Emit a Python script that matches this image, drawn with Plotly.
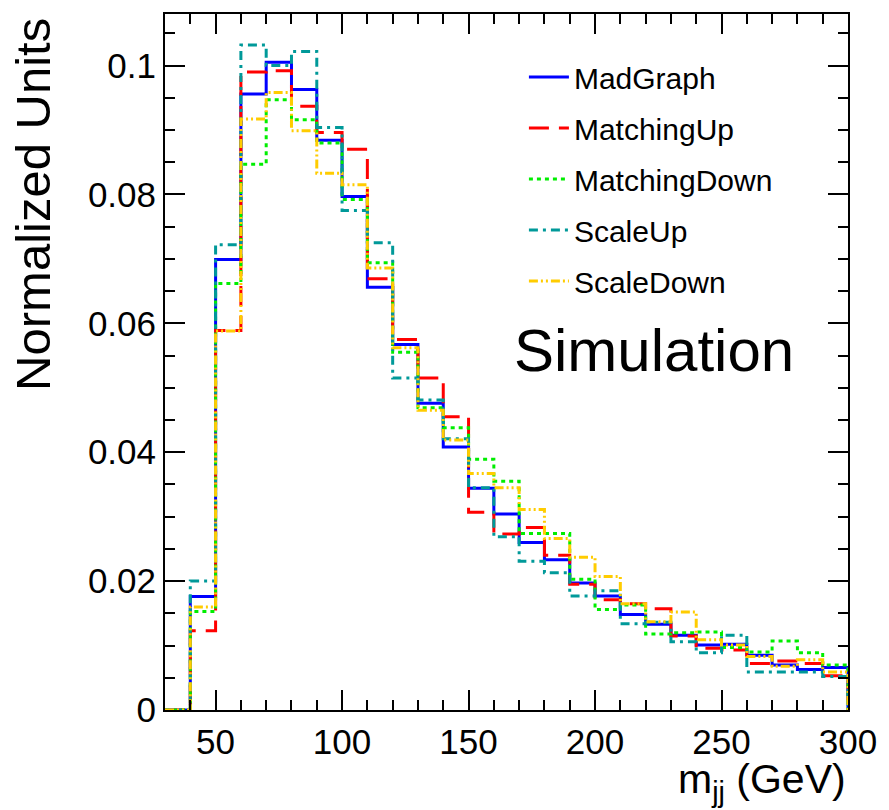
import plotly.graph_objects as go

# Bin edges (GeV): 30..300 in steps of 10 -> 27 bins
bin_edges = list(range(30, 310, 10))

madgraph = [0.0, 0.0176, 0.0699, 0.0956, 0.1005, 0.0963, 0.0884, 0.0797, 0.0656, 0.0567,
            0.0476, 0.0408, 0.0344, 0.0304, 0.0260, 0.0233, 0.0197, 0.0177, 0.0148, 0.0133,
            0.0116, 0.0101, 0.0102, 0.0085, 0.0070, 0.0063, 0.0066]
matching_up = [0.0, 0.0123, 0.0589, 0.0990, 0.0992, 0.0937, 0.0896, 0.0870, 0.0669, 0.0575,
               0.0515, 0.0455, 0.0307, 0.0273, 0.0283, 0.0240, 0.0195, 0.0171, 0.0165, 0.0157,
               0.0115, 0.0096, 0.0093, 0.0072, 0.0076, 0.0072, 0.0053]
matching_down = [0.0, 0.0153, 0.0662, 0.0847, 0.0947, 0.0916, 0.0880, 0.0792, 0.0694, 0.0555,
                 0.0469, 0.0438, 0.0389, 0.0355, 0.0274, 0.0274, 0.0203, 0.0156, 0.0163, 0.0118,
                 0.0120, 0.0121, 0.0097, 0.0090, 0.0107, 0.0089, 0.0070]
scale_up = [0.0, 0.0200, 0.0722, 0.1032, 0.1000, 0.1022, 0.0904, 0.0775, 0.0725, 0.0515,
            0.0481, 0.0421, 0.0345, 0.0269, 0.0231, 0.0213, 0.0177, 0.0185, 0.0134, 0.0136,
            0.0106, 0.0089, 0.0116, 0.0059, 0.0059, 0.0059, 0.0052]
scale_down = [0.0, 0.0160, 0.0588, 0.0917, 0.0958, 0.0899, 0.0833, 0.0815, 0.0686, 0.0562,
              0.0465, 0.0419, 0.0367, 0.0345, 0.0311, 0.0266, 0.0237, 0.0207, 0.0165, 0.0137,
              0.0152, 0.0109, 0.0101, 0.0083, 0.0068, 0.0078, 0.0059]

series_names = ["MadGraph", "MatchingUp", "MatchingDown", "ScaleUp", "ScaleDown"]
series_values = [madgraph, matching_up, matching_down, scale_up, scale_down]
series_colors = ["#0000ff", "#ff0000", "#00ee00", "#009999", "#ffcc00"]
series_dashes = ["solid", "20px,10px", "4px,4px", "9px,5px,3px,5px", "9px,3px,2px,3px,2px,3px"]

x_tickvals = [50, 100, 150, 200, 250, 300]
y_tickvals = [0, 0.02, 0.04, 0.06, 0.08, 0.1]
y_ticktext = ["0", "0.02", "0.04", "0.06", "0.08", "0.1"]

FONT = "Liberation Sans, Arial, Helvetica, sans-serif"

fig = go.Figure()
for name, vals, col, dash in zip(series_names, series_values, series_colors, series_dashes):
    xs = bin_edges[:-1] + [bin_edges[-1], bin_edges[-1]]
    ys = list(vals) + [vals[-1], 0.0]
    fig.add_trace(go.Scatter(
        x=xs, y=ys, mode="lines", name=name, legendgroup=name,
        line=dict(shape="hv", color=col, width=3, dash=dash),
    ))

fig.update_layout(
    width=889, height=810,
    margin=dict(l=165, r=39, t=13, b=100),
    paper_bgcolor="white", plot_bgcolor="white",
    font=dict(family=FONT, color="black"),
    showlegend=True,
    legend=dict(
        x=0.5255, y=0.947, xanchor="left", yanchor="top",
        font=dict(size=30, family=FONT), bgcolor="rgba(0,0,0,0)",
        tracegroupgap=9, itemwidth=40,
    ),
    xaxis=dict(
        range=[30, 300], showgrid=False, zeroline=False,
        showline=True, linecolor="black", linewidth=2, mirror="ticks",
        ticks="inside", ticklen=20, tickwidth=2, tickcolor="black",
        tickvals=x_tickvals, tickfont=dict(size=35, family=FONT),
        minor=dict(dtick=10, tick0=30, ticks="inside", ticklen=10, tickwidth=2, tickcolor="black"),
    ),
    yaxis=dict(
        range=[0, 0.108], showgrid=False, zeroline=False,
        showline=True, linecolor="black", linewidth=2, mirror="ticks",
        ticks="inside", ticklen=20, tickwidth=2, tickcolor="black",
        tickvals=y_tickvals, ticktext=y_ticktext, tickfont=dict(size=35, family=FONT),
        minor=dict(dtick=0.005, tick0=0, ticks="inside", ticklen=10, tickwidth=2, tickcolor="black"),
    ),
    annotations=[
        dict(text="Normalized Units", xref="paper", yref="paper", x=-0.193, y=0.726,
             xanchor="center", yanchor="middle", textangle=-90, showarrow=False,
             font=dict(size=49, family=FONT)),
        dict(text="m<sub>jj</sub> (GeV)", xref="paper", yref="paper", x=1.0, y=-0.063,
             xanchor="right", yanchor="top", showarrow=False,
             font=dict(size=41, family=FONT)),
        dict(text="Simulation", xref="paper", yref="paper", x=0.508, y=0.516,
             xanchor="left", yanchor="middle", showarrow=False,
             font=dict(size=60, family=FONT)),
    ],
)

fig.write_html("out.html")
